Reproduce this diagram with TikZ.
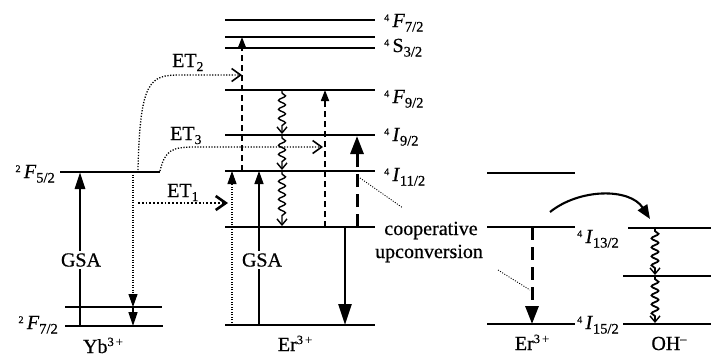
\documentclass[tikz,border=0pt]{standalone}
\usepackage{fontspec}
\setmainfont{Liberation Serif}[UprightFeatures={FakeBold=0.6},ItalicFeatures={FakeBold=0.6}]
\usetikzlibrary{arrows.meta,decorations.pathmorphing}
\newcommand{\lv}[3]{\raisebox{6pt}{\fontsize{10}{10}\selectfont #1}\,#2\raisebox{-4.5pt}{\fontsize{14.5}{14.5}\selectfont #3}}
\newcommand{\etl}[1]{ET\raisebox{-4pt}{\fontsize{13.5}{13.5}\selectfont #1}}
\newcommand{\ionlab}[2]{#1\raisebox{7pt}{\fontsize{12.5}{12.5}\selectfont #2}}
\begin{document}
\begin{tikzpicture}[x=1pt,y=-1pt,
  every node/.style={font=\fontsize{20}{24}\selectfont, inner sep=0pt},
  lvline/.style={line width=2.8pt},
  bigup/.style={line width=2.8pt,-{Triangle[length=17pt,width=10pt]}},
  thinup/.style={line width=1.4pt,-{Triangle[length=13pt,width=9pt]}},
  dotup/.style={line width=1.1pt,dash pattern=on 1pt off 1.5pt,-{Triangle[length=13pt,width=9pt]}},
  dashup/.style={line width=1.7pt,dash pattern=on 6pt off 4pt,-{Triangle[length=11pt,width=8pt]}},
  heavydash/.style={line width=3pt,dash pattern=on 13pt off 7pt,-{Triangle[length=18pt,width=13pt]}},
  downbig/.style={line width=2.6pt,-{Triangle[length=21pt,width=13pt]}},
  etline/.style={line width=1.3pt,dash pattern=on 1.2pt off 1.6pt,-{Straight Barb[length=9pt,width=13pt,line width=1.6pt]}},
  etbold/.style={line width=1.9pt,dash pattern=on 1.8pt off 2pt,-{Straight Barb[length=10pt,width=14pt,line width=2.6pt]}},
  wavy/.style={line width=1.4pt,decorate,decoration={snake,amplitude=3.5pt,segment length=9pt,post length=6pt,pre length=2pt},-{Straight Barb[length=6pt,width=10pt,line width=1.4pt]}},
  leader/.style={line width=0.9pt,dash pattern=on 1pt off 1.5pt},
  txt/.style={fill=white,inner sep=2pt}]
\useasboundingbox (0,0) rectangle (711,357);

% ---------- Yb3+ levels ----------
\coordinate (yb5L) at (60,172);  \coordinate (yb5R) at (160,172);
\coordinate (yb7aL) at (65,307); \coordinate (yb7aR) at (162,307);
\coordinate (yb7bL) at (65,326); \coordinate (yb7bR) at (163,326);
\draw[lvline] (yb5L) -- (yb5R);
\draw[lvline] (yb7aL) -- (yb7aR);
\draw[lvline] (yb7bL) -- (yb7bR);

% ---------- Er3+ levels (middle) ----------
\foreach \nm/\yy in {f7/20, s3a/37, s3b/48, f9/90, i9/135, i11/171, i13/227, i15/325}{
  \coordinate (er\nm L) at (225,\yy);
  \coordinate (er\nm R) at (375,\yy);
  \draw[lvline] (er\nm L) -- (er\nm R);
}

% ---------- Er3+ levels (right) ----------
\coordinate (rAL) at (487,173); \coordinate (rAR) at (575,173);
\coordinate (rBL) at (487,227); \coordinate (rBR) at (575,227);
\coordinate (rCL) at (487,324); \coordinate (rCR) at (575,324);
\draw[line width=2.3pt] (rAL) -- (rAR);
\draw[lvline] (rBL) -- (rBR);
\draw[lvline] (rCL) -- (rCR);

% ---------- OH- levels ----------
\coordinate (ohAL) at (628,228); \coordinate (ohAR) at (711,228);
\coordinate (ohBL) at (623,276); \coordinate (ohBR) at (711,276);
\coordinate (ohCL) at (623,324); \coordinate (ohCR) at (711,324);
\draw[lvline] (ohAL) -- (ohAR);
\draw[lvline] (ohBL) -- (ohBR);
\draw[lvline] (ohCL) -- (ohCR);

% ---------- Yb arrows ----------
\coordinate (ybgB) at (80,326);  \coordinate (ybgT) at (80,172);
\draw[bigup] (ybgB) -- (ybgT);
\node[txt] (gsaL) at (81,260) {GSA};
\coordinate (ybdT) at (133,172); \coordinate (ybdM) at (133,307); \coordinate (ybdB) at (133,326);
\draw[dotup] (ybdT) -- (ybdM);
\draw[line width=1.4pt,-{Triangle[length=14pt,width=9pt]}] (ybdM) -- (ybdB);

% ---------- energy transfers ----------
\coordinate (et1s) at (138,203); \coordinate (et1e) at (228,203);
\draw[etbold] (et1s) -- (et1e);
\coordinate (et2s) at (138,170); \coordinate (et2m) at (180,75); \coordinate (et2e) at (242,75);
\draw[etline] (et2s) .. controls (140,80) and (150,75) .. (et2m) -- (et2e);
\coordinate (et3s) at (160,171); \coordinate (et3m) at (195,147); \coordinate (et3e) at (323,147);
\draw[etline] (et3s) .. controls (165,150) and (172,147) .. (et3m) -- (et3e);
\node[anchor=base west] (et1) at (167,197) {\etl{1}};
\node[anchor=base west] (et2) at (172,67) {\etl{2}};
\node[anchor=base west] (et3) at (170,140) {\etl{3}};

% ---------- Er arrows ----------
\coordinate (a1B) at (232,325); \coordinate (a1T) at (232,171);
\draw[dotup] (a1B) -- (a1T);
\coordinate (a2B) at (259,325); \coordinate (a2T) at (259,171);
\draw[thinup] (a2B) -- (a2T);
\node[txt] (gsaR) at (262,260) {GSA};
\coordinate (a3B) at (242,171); \coordinate (a3T) at (242,37);
\draw[dashup] (a3B) -- (a3T);
\coordinate (w1) at (282,91); \coordinate (w2) at (282,134);
\coordinate (w3) at (282,136); \coordinate (w4) at (282,170);
\coordinate (w5) at (282,172); \coordinate (w6) at (282,226);
\draw[wavy] (w1) -- (w2);
\draw[wavy] (w3) -- (w4);
\draw[wavy] (w5) -- (w6);
\coordinate (a4B) at (325,227); \coordinate (a4T) at (325,90);
\draw[dashup] (a4B) -- (a4T);
\coordinate (a5B) at (357,227); \coordinate (a5T) at (357,136);
\draw[heavydash] (a5B) -- (a5T);
\coordinate (a6T) at (345,227); \coordinate (a6B) at (345,325);
\draw[downbig] (a6T) -- (a6B);

% ---------- right panel arrows ----------
\coordinate (r1T) at (532,227); \coordinate (r1B) at (532,324);
\draw[heavydash] (r1T) -- (r1B);
\coordinate (cvS) at (550,212); \coordinate (cvE) at (650,219);
\draw[line width=2.1pt,-{Triangle[length=14pt,width=11pt]}] (cvS) .. controls (580,188) and (630,188) .. (cvE);
\coordinate (o1) at (655,229); \coordinate (o2) at (655,275);
\coordinate (o3) at (655,277); \coordinate (o4) at (655,323);
\draw[wavy,line width=1.8pt] (o1) -- (o2);
\draw[wavy,line width=1.8pt] (o3) -- (o4);

% ---------- leaders ----------
\coordinate (ld1a) at (360,178); \coordinate (ld1b) at (403,208);
\draw[leader] (ld1a) -- (ld1b);
\coordinate (ld2a) at (498,270); \coordinate (ld2b) at (530,290);
\draw[leader] (ld2a) -- (ld2b);

% ---------- labels ----------
\node[anchor=base east] (lyb5) at (55,178) {\lv{2}{\textit{F}}{5/2}};
\node[anchor=base east] (lyb7) at (58,329) {\lv{2}{\textit{F}}{7/2}};
\node[anchor=base west] (lf7) at (384,27) {\lv{4}{\textit{F}}{7/2}};
\node[anchor=base west] (ls3) at (384,52) {\lv{4}{S}{3/2}};
\node[anchor=base west] (lf9) at (384,103) {\lv{4}{\textit{F}}{9/2}};
\node[anchor=base west] (li9) at (384,141) {\lv{4}{\textit{I}}{9/2}};
\node[anchor=base west] (li11) at (384,181) {\lv{4}{\textit{I}}{11/2}};
\node[anchor=base west] (li13) at (577,243) {\lv{4}{\textit{I}}{13/2}};
\node[anchor=base west] (li15) at (577,329) {\lv{4}{\textit{I}}{15/2}};
\node[anchor=base] (coop1) at (431,235) {cooperative};
\node[anchor=base] (coop2) at (429,258) {upconversion};
\node[anchor=base] (ionyb) at (103,353) {\ionlab{Yb}{3\,+}};
\node[anchor=base] (ioner1) at (295,351) {\ionlab{Er}{3\,+}};
\node[anchor=base] (ioner2) at (532,350) {\ionlab{Er}{3\,+}};
\node[anchor=base] (ionoh) at (669,350) {\ionlab{OH}{--}};
\end{tikzpicture}
\end{document}
